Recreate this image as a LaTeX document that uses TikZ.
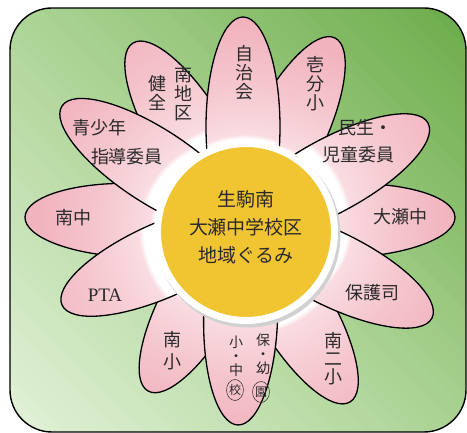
\documentclass[tikz,border=0pt]{standalone}
\usepackage{fontspec}
\newfontfamily\jp{Noto Sans CJK JP}
\newfontfamily\ptafont{Liberation Serif}
\usetikzlibrary{shapes.geometric}
\definecolor{bgd}{HTML}{6AAB48}
\definecolor{bgm}{HTML}{ABD394}
\definecolor{bgl}{HTML}{E2F2D8}
\definecolor{pkl}{HTML}{F9DCE1}
\definecolor{pkm}{HTML}{F5C5CD}
\definecolor{pkd}{HTML}{F1B4BF}
\definecolor{hubyellow}{HTML}{F1C432}
\definecolor{txt}{HTML}{2A2A2A}
% radius 230 of the shaded circle corresponds to 25bp
\pgfdeclareradialshading{petalshade}{\pgfpoint{0bp}{0bp}}{color(0bp)=(white); color(9.7bp)=(white); color(10.2bp)=(pkl); color(16bp)=(pkm); color(22bp)=(pkd); color(50bp)=(pkd)}
\newcommand\petal[3]{\path[petalbox, rotate around={#3:(#1,#2)}] (#1-110,#2) ellipse [x radius=110, y radius=37];}
\tikzset{
  petalbox/.style={draw=black, line width=1.3pt, path picture={\shade[shading=petalshade] (fc) circle (230);}},
  ptxt/.style={font=\jp\fontsize{18}{19}\selectfont, text=txt, align=center, inner sep=0pt},
  btxt/.style={font=\jp\fontsize{14}{14}\selectfont, text=txt, align=center, inner sep=0pt},
  ctxt/.style={font=\jp\fontsize{12}{12}\selectfont, text=txt, ellipse, draw=txt, line width=0.5pt, inner sep=0pt, minimum width=16, minimum height=21}
}
\begin{document}
\begin{tikzpicture}[x=1pt,y=1pt]
\useasboundingbox (0,0) rectangle (467,433);
% background gradient (diagonal)
\begin{scope}
\clip[rounded corners=42] (10,1) rectangle (466,425);
\foreach \i in {0,...,63}{
  \pgfmathsetmacro\pa{7+\i*9.75}
  \pgfmathsetmacro\pb{\pa+10.5}
  \pgfmathtruncatemacro\f{100*(\i+0.5)/64}
  \ifnum\f<50
    \pgfmathtruncatemacro\t{2*\f}
    \colorlet{stripe}{bgm!\t!bgl}
  \else
    \pgfmathtruncatemacro\t{2*(\f-50)}
    \colorlet{stripe}{bgd!\t!bgm}
  \fi
  \fill[stripe, rotate around={45:(0,0)}] (\pa,-800) rectangle (\pb,800);
}
\end{scope}
\draw[line width=1.4pt, rounded corners=42] (10,1) rectangle (466,425);
\coordinate (fc) at (245,205);
% petals, lower layer
\foreach \x/\y/\a in {335/395/63.7, 455/216/1.9, 350/31/-59, 148/42/-119.5, 25/216/178.2, 133/390/121.3}
  {\petal{\x}{\y}{\a}}
% petals, upper layer
\foreach \x/\y/\a in {243/416/90, 428/310/28.6, 432/115/-26.4, 238/8/-91.4, 62/128/204.1, 62/327/146.9}
  {\petal{\x}{\y}{\a}}
% centre
\node (hubshadow) [circle, fill=black!18, minimum size=185, inner sep=0pt] at (248,198) {};
\node (hub) [circle, fill=hubyellow, draw=white, line width=7pt, minimum size=177, inner sep=0pt] at (246,201) {};
\node (hubtext) [font=\jp\fontsize{19}{28}\selectfont, text=txt, align=center, inner sep=0pt] at (246,206) {生駒南\\大瀬中学校区\\地域ぐるみ};
% petal texts
\node (t1) [ptxt] at (244,360) {自\\治\\会};
\node (t2) [ptxt] at (315,349) {壱\\分\\小};
\node (t3a) [ptxt] at (365,305) {民生・};
\node (t3b) [ptxt] at (358,278) {児童委員};
\node (t4) [ptxt] at (400,216) {大瀬中};
\node (t5) [ptxt] at (372,140) {保護司};
\node (t6) [ptxt, font=\jp\fontsize{18}{18}\selectfont] at (333,74) {南\\二\\小};
\node (t8) [ptxt, font=\jp\fontsize{18}{22}\selectfont] at (172,82) {南\\小};
\node (t9) [font=\ptafont\fontsize{19}{19}\selectfont, text=txt, inner sep=0pt] at (105,138) {PTA};
\node (t10) [ptxt] at (74,215) {南中};
\node (t11a) [ptxt] at (100,305) {青少年};
\node (t11b) [ptxt] at (127,276) {指導委員};
\node (t12a) [ptxt] at (183,339) {南\\地\\区};
\node (t12b) [ptxt] at (157,340) {健\\全};
% bottom petal, two columns
\node (b1) [btxt] at (263,79) {保\\・\\幼};
\node (b2) [ctxt] at (261,41) {園};
\node (b3) [btxt] at (236,77) {小\\・\\中};
\node (b4) [ctxt] at (235,43) {校};
\end{tikzpicture}
\end{document}
